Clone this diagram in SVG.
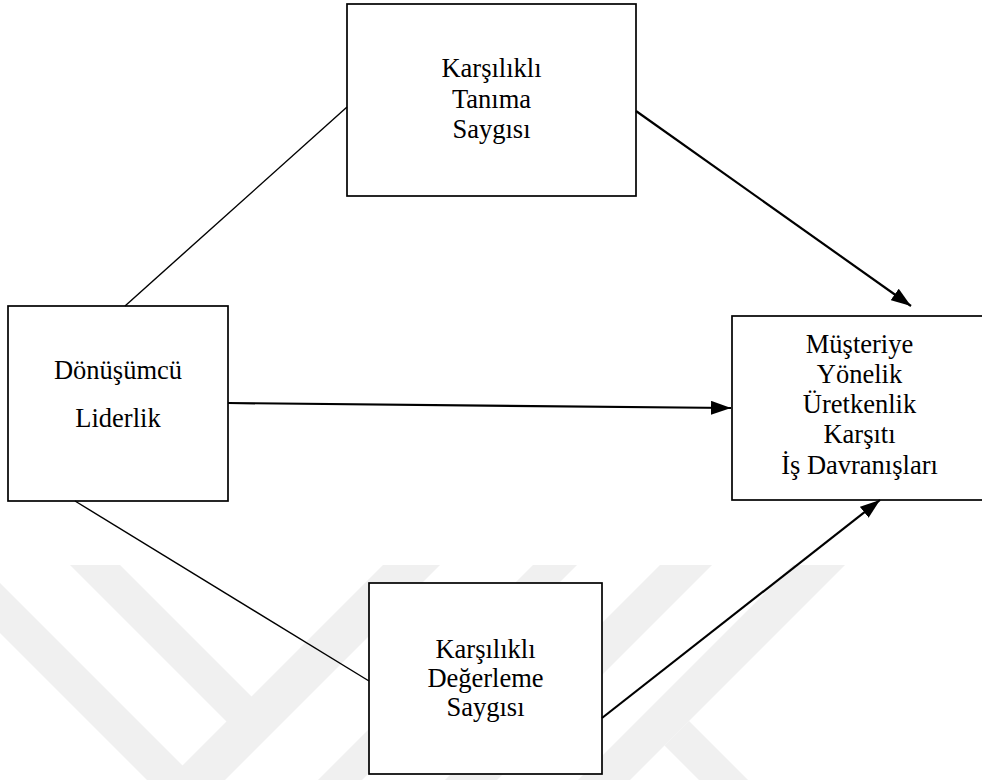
<svg xmlns="http://www.w3.org/2000/svg" width="982" height="780" viewBox="0 0 982 780">
  <style>
    .wm { fill: #f0f0f0; stroke: none; }
    .box { fill: #ffffff; stroke: #000000; stroke-width: 1.7; }
    .lbl { font-family: "Liberation Serif", "Times New Roman", serif; font-size: 26.5px; fill: #000000; text-anchor: middle; }
    .thin { stroke: #000000; stroke-width: 1.4; fill: none; }
    .arr { stroke: #000000; stroke-width: 2.2; fill: none; marker-end: url(#ah); }
  </style>
  <defs>
    <marker id="ah" viewBox="0 0 20 14" refX="20" refY="7" markerWidth="20" markerHeight="14" markerUnits="userSpaceOnUse" orient="auto">
      <path d="M0,0 L20,7 L0,14 z" fill="#000000"/>
    </marker>
  </defs>
  <rect x="0" y="0" width="982" height="780" fill="#ffffff"/>
  <g id="watermark">
    <polygon class="wm" points="0,583 197,780 147,780 0,633"/>
    <polygon class="wm" points="70,565 120,565 262.5,707.5 237.5,732.5"/>
    <polygon class="wm" points="383,565 440,565 225,780 168,780"/>
    <polygon class="wm" points="533,565 577,565 362,780 318,780"/>
    <polygon class="wm" points="660,565 712,565 497,780 445,780"/>
    <polygon class="wm" points="793,565 845,565 630,780 578,780"/>
    <polygon class="wm" points="689,721 748,780 699,780 664.5,745.5"/>
  </g>
  <g id="node-tanima">
    <rect class="box" x="347" y="4" width="289" height="192"/>
    <text class="lbl" x="491.5" y="77">Karşılıklı</text>
    <text class="lbl" x="491.5" y="107.5">Tanıma</text>
    <text class="lbl" x="491.5" y="138">Saygısı</text>
  </g>
  <g id="node-liderlik">
    <rect class="box" x="8" y="306" width="220" height="195"/>
    <text class="lbl" x="118" y="379">Dönüşümcü</text>
    <text class="lbl" x="118" y="426.5">Liderlik</text>
  </g>
  <g id="node-davranis">
    <rect class="box" x="732" y="316" width="255" height="184"/>
    <text class="lbl" x="859.5" y="352.5">Müşteriye</text>
    <text class="lbl" x="859.5" y="382.7">Yönelik</text>
    <text class="lbl" x="859.5" y="412.9">Üretkenlik</text>
    <text class="lbl" x="859.5" y="443.2">Karşıtı</text>
    <text class="lbl" x="859.5" y="473.5">İş Davranışları</text>
  </g>
  <g id="node-degerleme">
    <rect class="box" x="369" y="583" width="233" height="191"/>
    <text class="lbl" x="485.5" y="658">Karşılıklı</text>
    <text class="lbl" x="485.5" y="687">Değerleme</text>
    <text class="lbl" x="485.5" y="716">Saygısı</text>
  </g>
  <g id="connectors">
    <line class="thin" x1="347" y1="107" x2="125" y2="306"/>
    <line class="thin" x1="75" y1="501" x2="369" y2="681"/>
    <line class="arr" x1="636" y1="111" x2="911" y2="306"/>
    <line class="arr" x1="228" y1="403" x2="731" y2="408"/>
    <line class="arr" x1="602" y1="718" x2="880" y2="500"/>
  </g>
</svg>
